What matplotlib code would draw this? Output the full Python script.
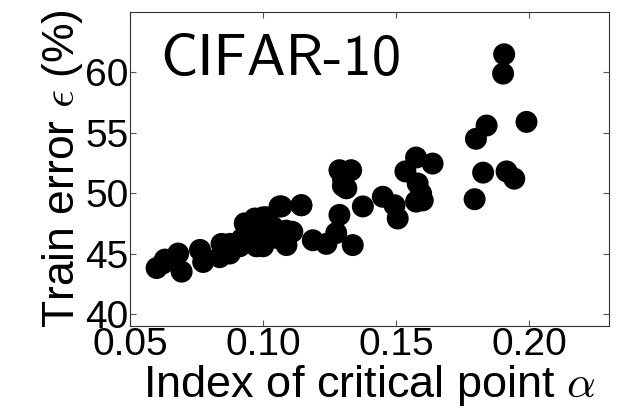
import os
import matplotlib
matplotlib.use("Agg")
import matplotlib.pyplot as plt
from matplotlib.font_manager import FontProperties

plt.rcParams['mathtext.fontset'] = 'cm'
plt.rcParams['font.family'] = ['Liberation Sans', 'DejaVu Sans']

alpha_idx = [0.0600, 0.0625, 0.0631, 0.0681, 0.0694, 0.0763, 0.0775, 0.0837, 0.0844,
             0.0875, 0.0875, 0.0900, 0.0912, 0.0931, 0.0944, 0.0950, 0.0969, 0.0975,
             0.1000, 0.1000, 0.1013, 0.1037, 0.1062, 0.1069, 0.1087, 0.1088, 0.1144,
             0.1144, 0.1187, 0.1238, 0.1275, 0.1287, 0.1287, 0.1300, 0.1300, 0.1313,
             0.1331, 0.1337, 0.1375, 0.1450, 0.1494, 0.1506, 0.1535, 0.1575, 0.1575,
             0.1581, 0.1594, 0.1600, 0.1637, 0.1795, 0.1800, 0.1827, 0.1840, 0.1902,
             0.1906, 0.1915, 0.1944, 0.1990,
             0.0980, 0.1050, 0.1110, 0.0920, 0.1020]
train_err = [43.8, 44.2, 44.5, 45.0, 43.5, 45.3, 44.3, 44.7, 45.8,
             45.0, 45.8, 45.8, 45.6, 47.5, 47.4, 46.7, 47.9, 45.6,
             48.0, 45.6, 48.0, 47.2, 48.9, 48.9, 46.9, 45.7, 49.0,
             49.0, 46.1, 45.8, 46.7, 48.2, 51.9, 51.2, 50.6, 50.4,
             51.9, 45.7, 48.9, 49.7, 49.0, 47.9, 51.8, 52.95, 49.3,
             50.8, 49.97, 49.4, 52.45, 49.5, 54.5, 51.7, 55.6, 59.9,
             61.5, 51.8, 51.2, 55.9,
             46.5, 46.3, 46.8, 46.2, 46.6]

xticks = [0.05, 0.10, 0.15, 0.20]
yticks = [40, 45, 50, 55, 60]

fig = plt.figure(figsize=(6.18, 4.18), dpi=100)
ax = fig.add_axes([130/618, 1-326/418, (609-130)/618, (326-12)/418])
ax.scatter(alpha_idx, train_err, s=250, c='black', edgecolors='none', zorder=3)
ax.set_xlim(0.05, 0.23)
ax.set_ylim(39, 65)
ax.set_xticks(xticks)
ax.set_xticklabels([f"{t:.2f}" for t in xticks])
ax.set_yticks(yticks)
ax.set_yticklabels([str(t) for t in yticks])
ax.tick_params(direction='in', labelsize=28, pad=1, length=4, top=True, right=True, color='#555555')
for sp in ax.spines.values():
    sp.set_color('#333333')
ax.set_xlabel(r'Index of critical point $\alpha$', fontsize=32.5, labelpad=0)
ax.set_ylabel(r'Train error $\epsilon$ (%)', fontsize=32, labelpad=0)

cmss = os.path.join(matplotlib.get_data_path(), 'fonts', 'ttf', 'cmss10.ttf')
if os.path.exists(cmss):
    ax.text(0.063, 0.847, 'CIFAR-10', transform=ax.transAxes,
            fontproperties=FontProperties(fname=cmss, size=42), va='center', ha='left')
else:
    ax.text(0.063, 0.847, r'$\mathsf{CIFAR\text{-}10}$', transform=ax.transAxes,
            fontsize=42, va='center', ha='left')
fig.savefig('out.png', dpi=100)
